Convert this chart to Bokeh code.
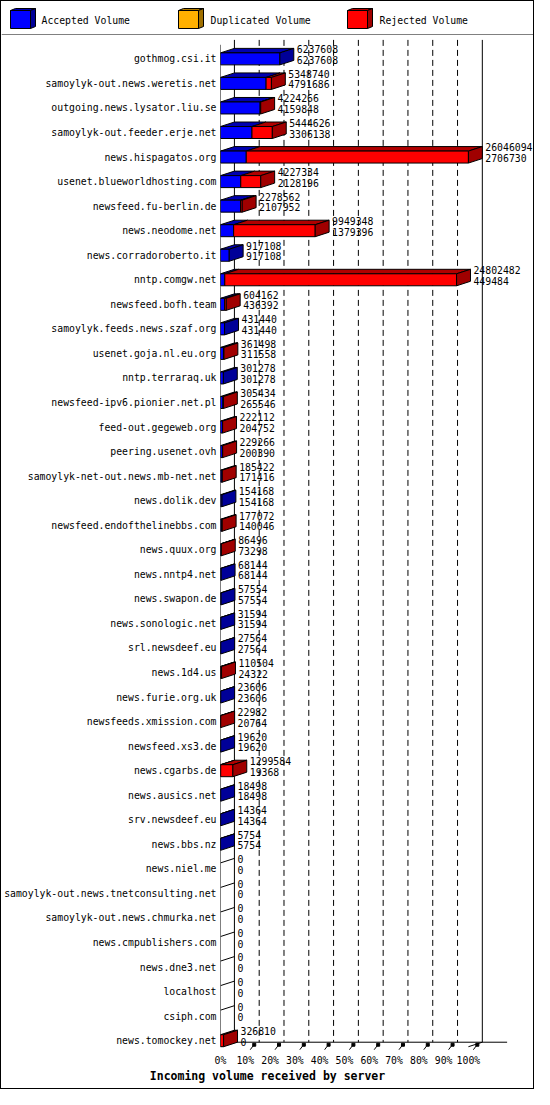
from bokeh.plotting import figure
from bokeh.layouts import column
from bokeh.models import Range1d, FixedTicker
from bokeh.core.properties import value
from bokeh.embed import file_html
from bokeh.resources import INLINE

# ---------------- data ----------------
servers = [
    "gothmog.csi.it", "samoylyk-out.news.weretis.net", "outgoing.news.lysator.liu.se",
    "samoylyk-out.feeder.erje.net", "news.hispagatos.org", "usenet.blueworldhosting.com",
    "newsfeed.fu-berlin.de", "news.neodome.net", "news.corradoroberto.it", "nntp.comgw.net",
    "newsfeed.bofh.team", "samoylyk.feeds.news.szaf.org", "usenet.goja.nl.eu.org",
    "nntp.terraraq.uk", "newsfeed-ipv6.pionier.net.pl", "feed-out.gegeweb.org",
    "peering.usenet.ovh", "samoylyk-net-out.news.mb-net.net", "news.dolik.dev",
    "newsfeed.endofthelinebbs.com", "news.quux.org", "news.nntp4.net", "news.swapon.de",
    "news.sonologic.net", "srl.newsdeef.eu", "news.1d4.us", "news.furie.org.uk",
    "newsfeeds.xmission.com", "newsfeed.xs3.de", "news.cgarbs.de", "news.ausics.net",
    "srv.newsdeef.eu", "news.bbs.nz", "news.niel.me", "samoylyk-out.news.tnetconsulting.net",
    "samoylyk-out.news.chmurka.net", "news.cmpublishers.com", "news.dne3.net", "localhost",
    "csiph.com", "news.tomockey.net",
]
total_volume = [
    6237608, 5348740, 4224266, 5444626, 26046094, 4227334, 2278562, 9949348, 917108,
    24802482, 604162, 431440, 361498, 301278, 305434, 222112, 229266, 185422, 154168,
    177072, 86496, 68144, 57554, 31594, 27564, 110504, 23606, 22982, 19620, 1299584,
    18498, 14364, 5754, 0, 0, 0, 0, 0, 0, 0, 326810,
]
accepted_volume = [
    6237608, 4791686, 4159848, 3306138, 2706730, 2128196, 2107952, 1379396, 917108,
    449484, 436392, 431440, 311558, 301278, 265546, 204752, 200390, 171416, 154168,
    140046, 73298, 68144, 57554, 31594, 27564, 24322, 23606, 20764, 19620, 19368,
    18498, 14364, 5754, 0, 0, 0, 0, 0, 0, 0, 0,
]
duplicated_volume = [
    0, 0, 0, 0, 0, 0, 0, 0, 0, 0, 0, 0, 0, 0, 0, 0, 0, 0, 0, 0, 0,
    0, 0, 0, 0, 0, 0, 0, 0, 0, 0, 0, 0, 0, 0, 0, 0, 0, 0, 0, 0,
]
percent_ticks = [0, 10, 20, 30, 40, 50, 60, 70, 80, 90, 100]
tick_labels = ["0%", "10%", "20%", "30%", "40%", "50%", "60%", "70%", "80%", "90%", "100%"]
legend_labels = ["Accepted Volume", "Duplicated Volume", "Rejected Volume"]
x_title = "Incoming volume received by server"

# ---------------- styling ----------------
FONT = "DejaVu Sans Mono"
FS = "9.8px"
# (front, top, side) colours
C_ACC = ("#0000FF", "#0000B0", "#000098")
C_DUP = ("#FFB000", "#B07C00", "#A07000")
C_REJ = ("#FF0000", "#B00000", "#A00000")

W = 532
LEG_H = 34
MAIN_H = 1033
TITLE_H = 20
ML = 217
MB = 17
FRAME_W = W - ML
FRAME_H = MAIN_H - MB
PX_PCT = 2.495
PX_ROW = 24.57
ROW0 = 23.4
DX, DY, HH = 14.0, 4.5, 6.0

n = len(servers)
y_top = -ROW0 / PX_ROW
y_bot = y_top + FRAME_H / PX_ROW
dxp = DX / PX_PCT
dyr = DY / PX_ROW
hh = HH / PX_ROW

p = figure(width=W, height=MAIN_H, x_range=Range1d(0, FRAME_W / PX_PCT),
           y_range=Range1d(y_bot, y_top), output_backend="svg", toolbar_location=None,
           min_border_left=ML, min_border_right=0, min_border_top=0, min_border_bottom=MB,
           title=None, frame_align=False)
p.outline_line_color = None
p.xgrid.visible = False
p.ygrid.visible = False

# ---- back wall, grid, floor ----
wall_top = y_top + 4.4 / PX_ROW
front_top = y_top + 9.3 / PX_ROW
floor_front = (n - 1) + hh
floor_back = floor_front - dyr

p.segment(x0=[0], y0=[front_top], x1=[0], y1=[floor_front], line_color="black", line_width=1)
p.segment(x0=[dxp, 100 + dxp], y0=[wall_top, wall_top], x1=[dxp, 100 + dxp],
          y1=[floor_back, floor_back], line_color="black", line_width=1)
gx = [t + dxp for t in percent_ticks[1:-1]]
p.segment(x0=gx, y0=[wall_top] * len(gx), x1=gx, y1=[floor_back] * len(gx),
          line_color="black", line_width=1, line_dash="6 4")
p.segment(x0=[dxp, 0, 100], y0=[floor_back, floor_front, floor_front],
          x1=[110 + dxp, dxp, 100 + dxp], y1=[floor_back, floor_back, floor_back],
          line_color="black", line_width=1)
tx0 = [t + 5 / PX_PCT for t in percent_ticks[1:]]
tx1 = [t + 8 / PX_PCT for t in percent_ticks[1:]]
p.segment(x0=tx0, y0=[floor_front + 3 / PX_ROW] * len(tx0), x1=tx1,
          y1=[floor_front - 1 / PX_ROW] * len(tx1), line_color="black", line_width=1)
p.scatter(x=[t + 9 / PX_PCT for t in percent_ticks[1:]], y=[floor_front - 2 / PX_ROW] * len(tx0),
          marker="square", size=3, fill_color="black", line_color="black")

# ---- 3D bars ----
vmax = max(total_volume)
top_xs, top_ys, top_c = [], [], []
fr_l, fr_r, fr_t, fr_b, fr_c = [], [], [], [], []
sd_xs, sd_ys, sd_c = [], [], []
zx0, zy0, zx1, zy1 = [], [], [], []
for i in range(n):
    tot = total_volume[i]
    acc = accepted_volume[i]
    dup = duplicated_volume[i]
    if tot <= 0:
        zx0.append(0); zy0.append(i - hh); zx1.append(dxp); zy1.append(i - hh - dyr)
        continue
    a = acc / vmax * 100
    d = (acc + dup) / vmax * 100
    t = tot / vmax * 100
    segs = [(0, a, C_ACC), (a, d, C_DUP), (d, t, C_REJ)]
    last = None
    for (x0, x1, col) in segs:
        if x1 - x0 <= 0:
            continue
        last = col
        top_xs.append([x0, x1, x1 + dxp, x0 + dxp])
        top_ys.append([i - hh, i - hh, i - hh - dyr, i - hh - dyr])
        top_c.append(col[1])
        fr_l.append(x0); fr_r.append(x1); fr_t.append(i - hh); fr_b.append(i + hh)
        fr_c.append(col[0])
    sd_xs.append([t, t, t + dxp, t + dxp])
    sd_ys.append([i - hh, i + hh, i + hh - dyr, i - hh - dyr])
    sd_c.append(last[2])

p.segment(x0=zx0, y0=zy0, x1=zx1, y1=zy1, line_color="black", line_width=1)
p.patches(xs=top_xs, ys=top_ys, fill_color=top_c, line_color="black", line_width=1)
p.quad(left=fr_l, right=fr_r, top=fr_t, bottom=fr_b, fill_color=fr_c,
       line_color="black", line_width=1)
p.patches(xs=sd_xs, ys=sd_ys, fill_color=sd_c, line_color="black", line_width=1)

# ---- value labels ----
lx = [tv / vmax * 100 + 17 / PX_PCT for tv in total_volume]
p.text(x=lx, y=[i - 9.6 / PX_ROW for i in range(n)], text=[str(v) for v in total_volume],
       text_font=value(FONT), text_font_size=FS, text_color="black",
       text_align="left", text_baseline="middle")
p.text(x=lx, y=[i + 1.0 / PX_ROW for i in range(n)], text=[str(v) for v in accepted_volume],
       text_font=value(FONT), text_font_size=FS, text_color="black",
       text_align="left", text_baseline="middle")

# ---- axes ----
ya = p.yaxis[0]
ya.ticker = FixedTicker(ticks=list(range(n)))
ya.major_label_overrides = {i: s for i, s in enumerate(servers)}
ya.axis_line_color = None
ya.major_tick_line_color = None
ya.minor_tick_line_color = None
ya.major_tick_out = 0
ya.major_tick_in = 0
ya.major_label_standoff = 4
ya.major_label_text_font = FONT
ya.major_label_text_font_size = FS
ya.major_label_text_color = "black"

xa = p.xaxis[0]
xa.ticker = FixedTicker(ticks=percent_ticks)
xa.major_label_overrides = {t: l for t, l in zip(percent_ticks, tick_labels)}
xa.axis_line_color = None
xa.major_tick_line_color = None
xa.minor_tick_line_color = None
xa.major_tick_out = 0
xa.major_tick_in = 0
xa.major_label_standoff = 4
xa.major_label_text_font = FONT
xa.major_label_text_font_size = FS
xa.major_label_text_color = "black"

# ---------------- legend strip ----------------
leg = figure(width=W, height=LEG_H, x_range=Range1d(0, W), y_range=Range1d(LEG_H, 0),
             output_backend="svg", toolbar_location=None, min_border=0,
             x_axis_type=None, y_axis_type=None, title=None, frame_align=False)
leg.outline_line_color = None
icon_x = [9, 177, 346]
text_x = [40, 209, 378]
colors = [C_ACC, C_DUP, C_REJ]
fx, fy, fc = [], [], []
for ix, col in zip(icon_x, colors):
    fx += [[ix, ix + 20, ix + 20, ix], [ix, ix + 20, ix + 25, ix + 5], [ix + 20, ix + 20, ix + 25, ix + 25]]
    fy += [[9, 9, 27, 27], [9, 9, 7, 7], [9, 27, 25, 7]]
    fc += [col[0], col[1], col[2]]
leg.patches(xs=fx, ys=fy, fill_color=fc, line_color="black", line_width=1)
leg.text(x=text_x, y=[19, 19, 19], text=legend_labels, text_font=value(FONT),
         text_font_size=FS, text_color="black", text_align="left", text_baseline="middle")
leg.segment(x0=[0], y0=[LEG_H - 0.5], x1=[W], y1=[LEG_H - 0.5], line_color="black", line_width=1)

# ---------------- x title strip ----------------
tf = figure(width=W, height=TITLE_H, x_range=Range1d(0, W), y_range=Range1d(TITLE_H, 0),
            output_backend="svg", toolbar_location=None, min_border=0,
            x_axis_type=None, y_axis_type=None, title=None, frame_align=False)
tf.outline_line_color = None
tf.text(x=[W / 2], y=[7], text=[x_title], text_font=value(FONT),
        text_font_size="11.5px", text_font_style="bold", text_color="black",
        text_align="center", text_baseline="middle")

layout = column(leg, p, tf, styles={"border": "1px solid black"})

open("out.html", "w").write(file_html(layout, INLINE))
